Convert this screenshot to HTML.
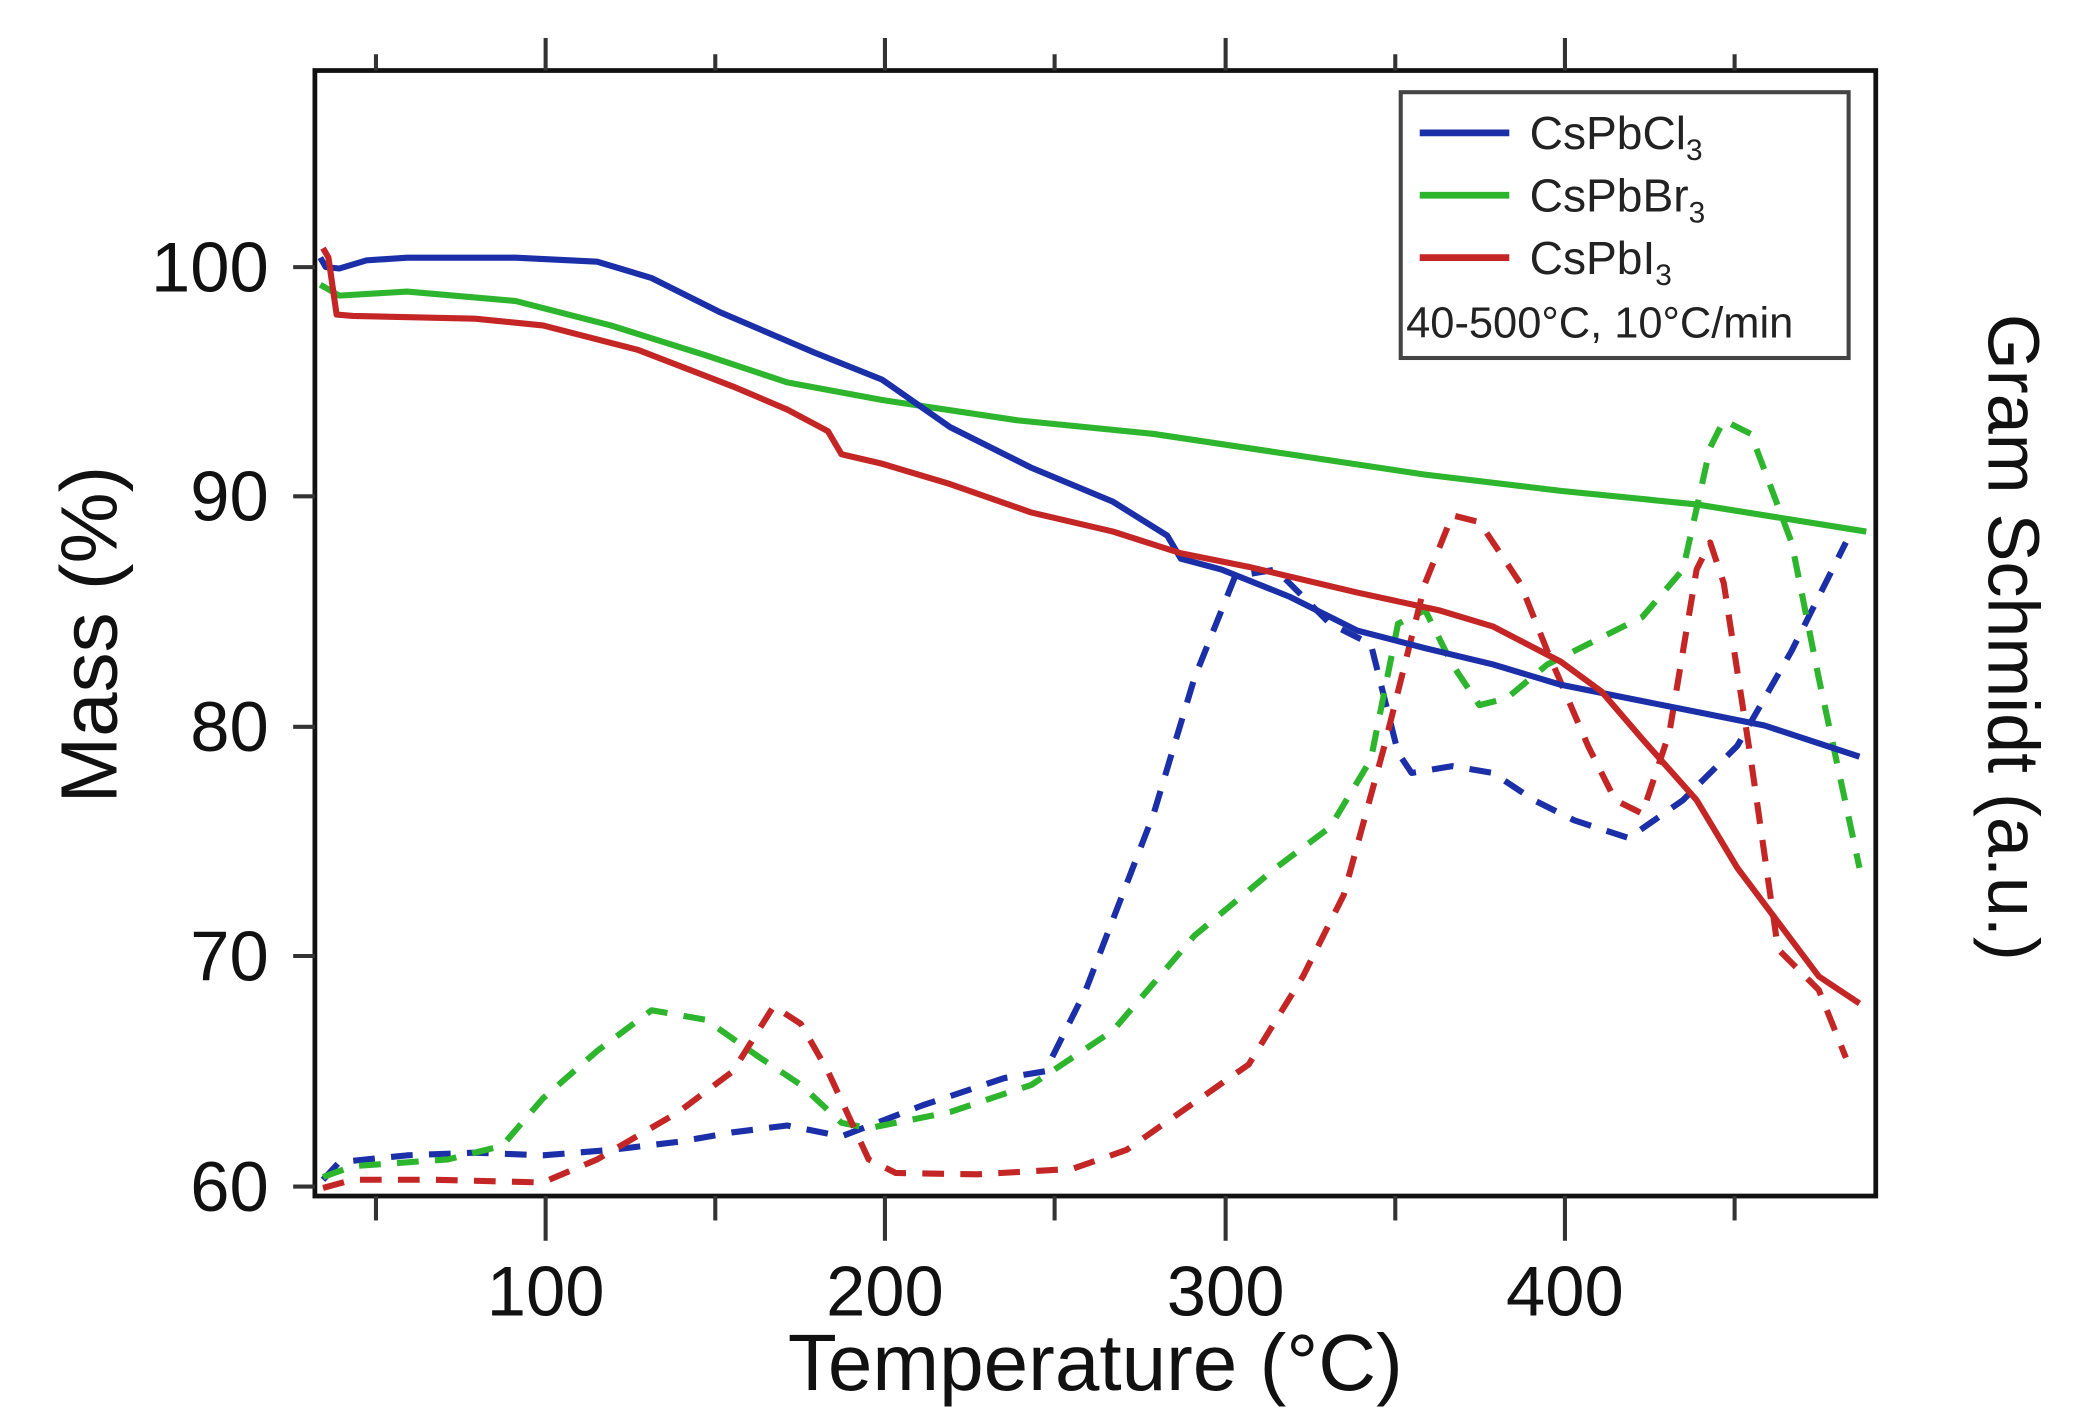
<!DOCTYPE html>
<html><head><style>html,body{margin:0;padding:0;background:#fff}svg{display:block}</style></head>
<body>
<svg width="2097" height="1413" viewBox="0 0 1545 1042" preserveAspectRatio="none" xmlns="http://www.w3.org/2000/svg" font-family="Liberation Sans, sans-serif">
<rect width="1545" height="1042" fill="#fff"/>
<rect x="232" y="52" width="1150" height="830" fill="none" stroke="#111" stroke-width="3.5"/>
<g stroke="#333" stroke-width="3">
<line x1="216" y1="197" x2="232" y2="197"/><line x1="216" y1="366" x2="232" y2="366"/><line x1="216" y1="536" x2="232" y2="536"/><line x1="216" y1="705" x2="232" y2="705"/><line x1="216" y1="875" x2="232" y2="875"/>
<line x1="277" y1="882" x2="277" y2="900"/><line x1="402" y1="882" x2="402" y2="915"/><line x1="527" y1="882" x2="527" y2="900"/><line x1="652" y1="882" x2="652" y2="915"/><line x1="777" y1="882" x2="777" y2="900"/><line x1="903" y1="882" x2="903" y2="915"/><line x1="1028" y1="882" x2="1028" y2="900"/><line x1="1153" y1="882" x2="1153" y2="915"/><line x1="1278" y1="882" x2="1278" y2="900"/>
<line x1="277" y1="52" x2="277" y2="40"/><line x1="402" y1="52" x2="402" y2="28"/><line x1="527" y1="52" x2="527" y2="40"/><line x1="652" y1="52" x2="652" y2="28"/><line x1="777" y1="52" x2="777" y2="40"/><line x1="903" y1="52" x2="903" y2="28"/><line x1="1028" y1="52" x2="1028" y2="40"/><line x1="1153" y1="52" x2="1153" y2="28"/><line x1="1278" y1="52" x2="1278" y2="40"/>
</g>
<g font-size="52" fill="#111" text-anchor="end">
<text x="198" y="215">100</text><text x="198" y="384">90</text><text x="198" y="554">80</text><text x="198" y="723">70</text><text x="198" y="893">60</text>
</g>
<g font-size="52" fill="#111" text-anchor="middle">
<text x="402" y="970">100</text><text x="652" y="970">200</text><text x="903" y="970">300</text><text x="1153" y="970">400</text>
</g>
<text x="807" y="1025" font-size="59" text-anchor="middle" fill="#111">Temperature (°C)</text>
<text transform="translate(86,468) rotate(-90)" font-size="59" text-anchor="middle" fill="#111">Mass (%)</text>
<text transform="translate(1465,470) rotate(90)" font-size="53" text-anchor="middle" fill="#111">Gram Schmidt (a.u.)</text>
<g fill="none" stroke-width="4.5" stroke-linejoin="round" stroke-linecap="butt">
<polyline stroke="#1a2fa8" stroke-dasharray="16,12" points="238,870 250,857 300,852 350,850 400,852 450,848 500,842 540,835 580,830 620,838 680,815 740,795 770,790 800,730 850,600 880,500 910,425 940,420 980,460 1010,475 1030,555 1040,570 1070,565 1100,570 1130,590 1160,605 1200,618 1240,590 1280,550 1320,480 1360,400"/>
<polyline stroke="#2db52d" stroke-dasharray="16,12" points="238,868 260,860 330,855 370,845 400,810 440,775 480,745 520,752 560,780 590,800 620,828 640,832 700,820 760,800 820,760 880,690 940,640 980,610 1010,560 1030,460 1050,450 1070,490 1090,520 1110,515 1140,490 1170,475 1210,455 1240,420 1260,330 1270,310 1290,320 1320,400 1340,500 1370,640"/>
<polyline stroke="#c42626" stroke-dasharray="16,12" points="238,876 260,870 320,870 400,872 440,855 500,820 540,790 570,742 590,755 610,790 640,855 660,865 720,866 790,862 830,848 870,820 920,785 960,720 990,660 1020,550 1050,430 1070,380 1090,385 1120,430 1140,480 1170,550 1190,590 1210,600 1230,540 1250,420 1260,400 1270,430 1290,560 1310,700 1340,730 1360,780"/>
<polyline stroke="#2db52d" points="236,210 250,218 300,215 380,222 450,240 520,262 580,282 650,295 750,310 850,320 950,335 1050,350 1150,362 1250,372 1375,392"/>
<polyline stroke="#1a2fa8" points="236,190 240,197 250,198 270,192 300,190 380,190 440,193 480,205 530,230 600,260 650,280 700,315 760,345 820,370 860,395 870,412 900,420 950,440 1000,465 1050,478 1100,490 1150,505 1200,515 1250,525 1300,535 1370,558"/>
<polyline stroke="#c42626" points="238,183 242,190 248,232 260,233 350,235 400,240 470,258 540,285 580,302 610,318 620,335 650,342 700,357 760,378 820,392 870,408 920,418 1000,437 1060,450 1100,462 1150,488 1180,510 1210,545 1250,590 1280,640 1310,680 1340,720 1370,740"/>
</g>
<rect x="1032" y="68" width="330" height="196" fill="#fff" stroke="#444" stroke-width="3"/>
<g stroke-width="5"><line x1="1046" y1="98" x2="1112" y2="98" stroke="#1a2fa8"/><line x1="1046" y1="144" x2="1112" y2="144" stroke="#2db52d"/><line x1="1046" y1="190" x2="1112" y2="190" stroke="#c42626"/></g>
<g font-size="34" fill="#222">
<text x="1127" y="110">CsPbCl<tspan font-size="22" dy="8">3</tspan></text>
<text x="1127" y="156">CsPbBr<tspan font-size="22" dy="8">3</tspan></text>
<text x="1127" y="202">CsPbI<tspan font-size="22" dy="8">3</tspan></text>
<text x="1036" y="249" font-size="32">40-500°C, 10°C/min</text>
</g>
</svg>
</body></html>
